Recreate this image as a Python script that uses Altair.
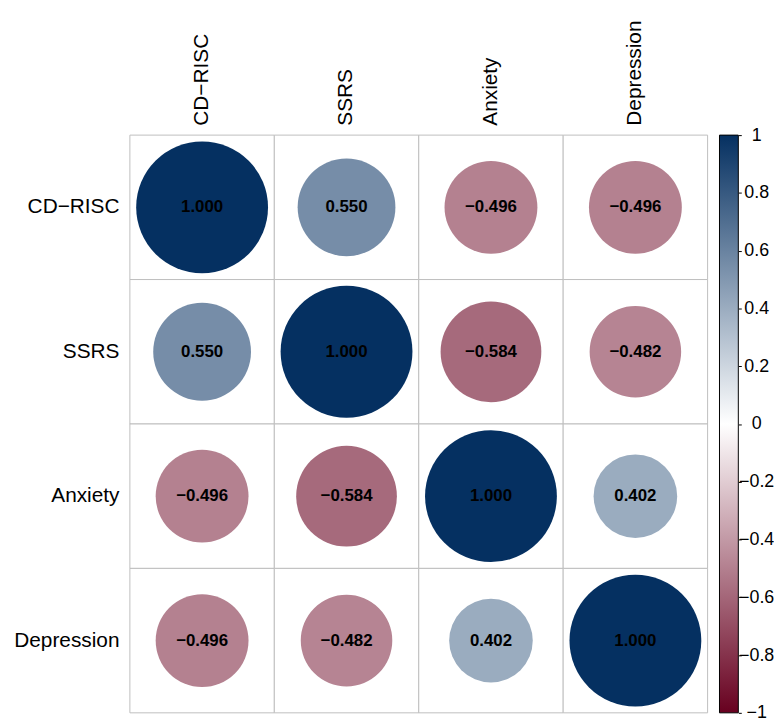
import altair as alt
import pandas as pd

variables = ["CD\u2212RISC", "SSRS", "Anxiety", "Depression"]
corr = [
    [1.000, 0.550, -0.496, -0.496],
    [0.550, 1.000, -0.584, -0.482],
    [-0.496, -0.584, 1.000, 0.402],
    [-0.496, -0.482, 0.402, 1.000],
]
bar_ticks = [1, 0.8, 0.6, 0.4, 0.2, 0, -0.2, -0.4, -0.6, -0.8, -1]
palette = ["#67001F", "#FFFFFF", "#053061"]

rows = []
for i, rv in enumerate(variables):
    for j, cv in enumerate(variables):
        rows.append({"row": rv, "col": cv, "r": corr[i][j]})
df = pd.DataFrame(rows)

FONT = "Liberation Sans"
W = 583

color_scale = alt.Scale(domain=[-1, 0, 1], range=palette, interpolate="rgb")

x_enc = alt.X("col:N", sort=variables, scale=alt.Scale(paddingInner=0, paddingOuter=0),
              axis=alt.Axis(orient="top", labelAngle=-90, ticks=False, domain=False,
                            labelPadding=10, labelFontSize=21, labelFont=FONT,
                            labelColor="black", title=None, grid=False))
y_enc = alt.Y("row:N", sort=variables, scale=alt.Scale(paddingInner=0, paddingOuter=0),
              axis=alt.Axis(ticks=False, domain=False, labelPadding=11, labelFontSize=21,
                            labelFont=FONT, labelColor="black", title=None, grid=False))

base = alt.Chart(df)

grid = base.mark_rect(fill="white", stroke="#BEBEBE", strokeWidth=1).encode(x=x_enc, y=y_enc)

circles = base.transform_calculate(absr="abs(datum.r)").mark_circle(opacity=1).encode(
    x=x_enc, y=y_enc,
    size=alt.Size("absr:Q", scale=alt.Scale(domain=[0, 1], range=[0, 17700]), legend=None),
    color=alt.Color("r:Q", scale=color_scale, legend=None),
)

labels = base.mark_text(font=FONT, fontSize=17, fontWeight="bold", color="black").encode(
    x=x_enc, y=y_enc, text=alt.Text("r:Q", format=".3f")
)

heat = alt.layer(grid, circles, labels).properties(width=W, height=W)

bar_df = pd.DataFrame({"lo": [-1], "hi": [1]})
colorbar = alt.Chart(bar_df).mark_rect(
    fill=alt.Gradient(
        gradient="linear",
        stops=[alt.GradientStop(color=palette[0], offset=0),
               alt.GradientStop(color=palette[1], offset=0.5),
               alt.GradientStop(color=palette[2], offset=1)],
        x1=0, x2=0, y1=1, y2=0,
    ),
    stroke="black", strokeWidth=1,
).encode(
    x=alt.value(0), x2=alt.value(19),
    y=alt.Y("lo:Q", scale=alt.Scale(domain=[-1, 1], nice=False, zero=False),
            axis=alt.Axis(orient="right", values=bar_ticks, format="~g", tickSize=3,
                          tickColor="black", domain=False, labelAlign="center",
                          labelBaseline="middle", labelPadding=15, labelFontSize=18,
                          labelFont=FONT, labelColor="black", title=None, grid=False)),
    y2="hi",
).properties(width=19, height=W)

chart = alt.hconcat(heat, colorbar, spacing=10).properties(
    padding={"left": 5, "top": 8, "right": 0, "bottom": 0}
).configure_view(strokeWidth=0)

chart.save("out.html", embed_options={"renderer": "svg", "actions": False})
